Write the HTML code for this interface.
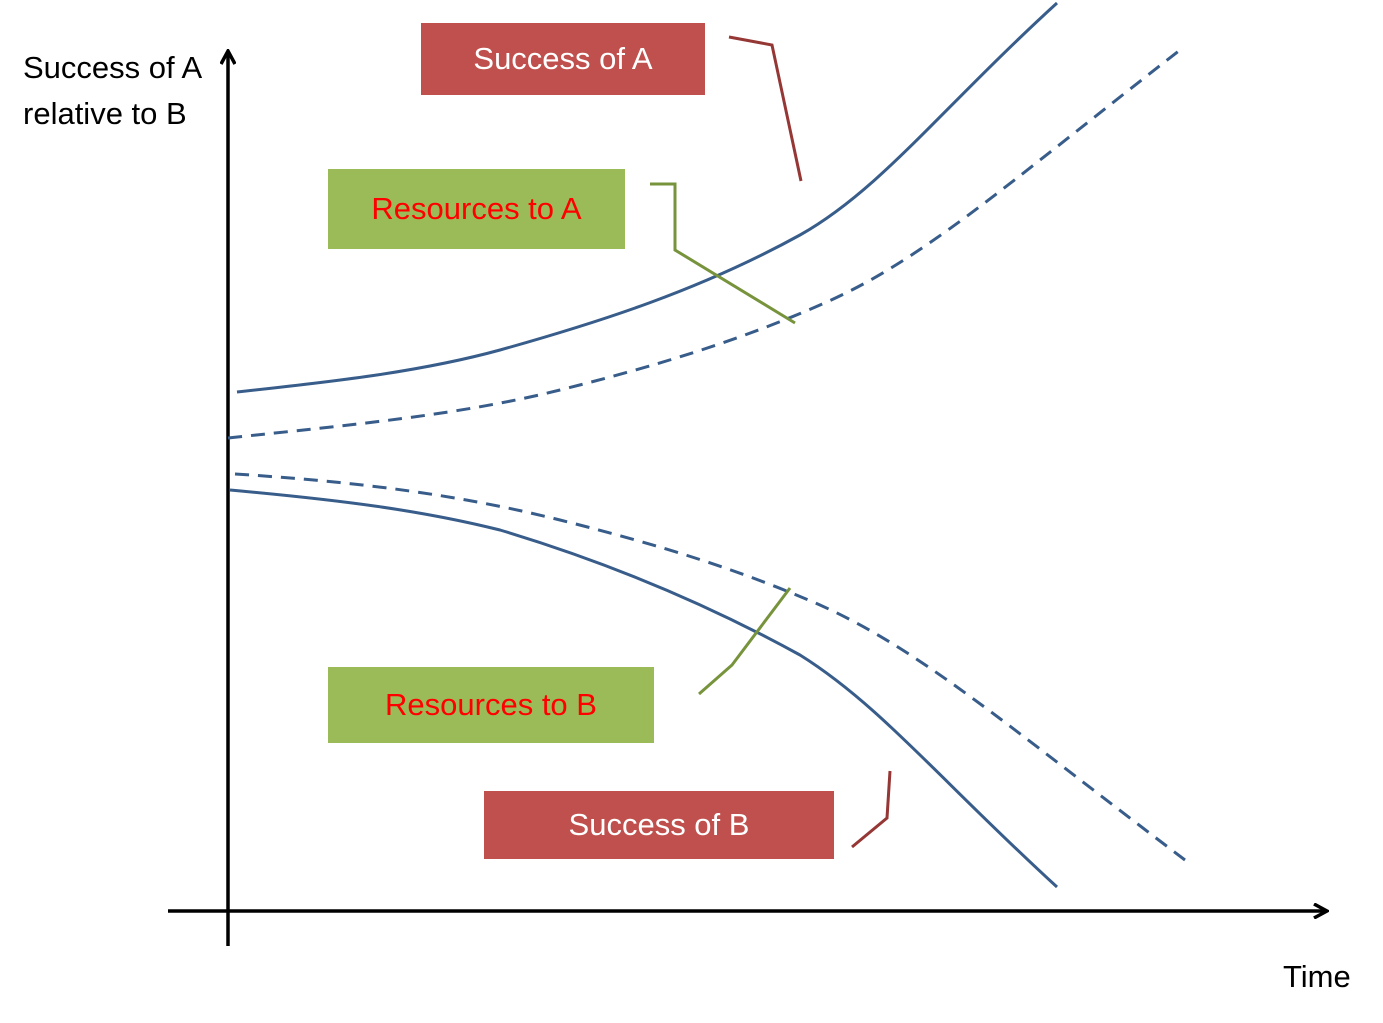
<!DOCTYPE html>
<html><head><meta charset="utf-8"><style>
html,body{margin:0;padding:0;background:#fff;}
body{width:1383px;height:1023px;overflow:hidden;position:relative;font-family:"Liberation Sans",sans-serif;}
.t{position:absolute;font-size:31px;color:#000;white-space:nowrap;}
.box{position:absolute;display:flex;align-items:center;justify-content:center;font-size:31px;white-space:nowrap;}
</style></head><body>
<svg width="1383" height="1023" style="position:absolute;left:0;top:0">
<defs>
<marker id="ar" markerWidth="16" markerHeight="16" refX="13" refY="8" orient="auto" markerUnits="userSpaceOnUse">
<path d="M1,1 L14,8 L1,15" fill="none" stroke="#000" stroke-width="3.5"/>
</marker>
</defs>
<line x1="228" y1="946" x2="228" y2="52" stroke="#000" stroke-width="3.5" marker-end="url(#ar)"/>
<line x1="168" y1="911" x2="1326" y2="911" stroke="#000" stroke-width="3.5" marker-end="url(#ar)"/>
<g fill="none" stroke="#385d8a" stroke-width="3">
<path d="M237,392 C330,382 420,372 500,350 C600,322 700,290 800,235 C880,190 940,110 1057,3"/>
<path d="M228,438 C350,425 460,415 560,390 C660,365 740,340 820,305 C920,262 1000,190 1180,50" stroke-dasharray="14,9"/>
<path d="M235,474 C360,482 460,495 560,520 C660,545 740,570 820,605 C920,650 1000,720 1185,860" stroke-dasharray="14,9"/>
<path d="M230,490 C340,500 420,510 500,530 C600,560 700,600 800,655 C880,705 940,780 1057,887"/>
</g>
<polyline points="729,37 772,45 801,181" fill="none" stroke="#953735" stroke-width="3"/>
<polyline points="650,184 675,184 675,250 795,323" fill="none" stroke="#77933c" stroke-width="3"/>
<polyline points="699,694 732,665 790,588" fill="none" stroke="#77933c" stroke-width="3"/>
<polyline points="852,847 887,818 890,771" fill="none" stroke="#953735" stroke-width="3"/>
</svg>
<div class="t" style="left:23px;top:50px;">Success of A</div>
<div class="t" style="left:23px;top:96px;">relative to B</div>
<div class="t" style="left:1283px;top:959px;">Time</div>
<div class="box" style="left:421px;top:23px;width:284px;height:72px;background:#c0504d;color:#fff;">Success of A</div>
<div class="box" style="left:328px;top:169px;width:297px;height:80px;background:#9bbb59;color:#f00;">Resources to A</div>
<div class="box" style="left:328px;top:667px;width:326px;height:76px;background:#9bbb59;color:#f00;">Resources to B</div>
<div class="box" style="left:484px;top:791px;width:350px;height:68px;background:#c0504d;color:#fff;">Success of B</div>
</body></html>
